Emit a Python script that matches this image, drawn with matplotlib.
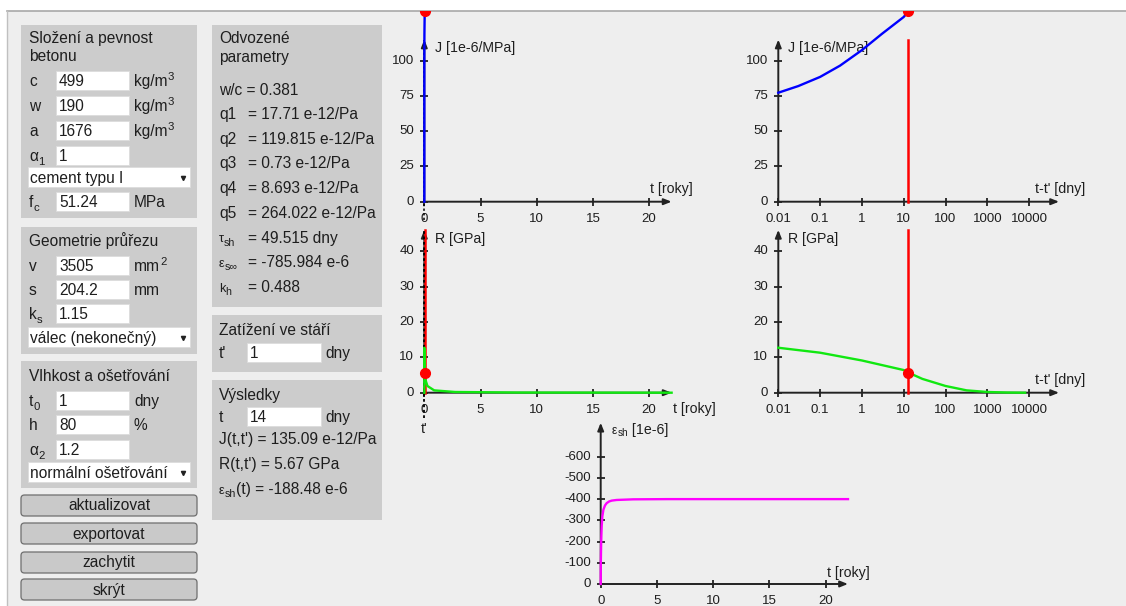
import matplotlib
matplotlib.use('Agg')
import matplotlib.pyplot as plt
from matplotlib.patches import Rectangle, FancyBboxPatch

plt.rcParams['font.family'] = ['Liberation Sans', 'DejaVu Sans']

W, H = 1126, 606
TXT = '#1e1e1e'
AXC = '#222222'
PAGE = '#eeeeee'
PANEL = '#cccccc'
FS = 11.2      # ui text
SUB = 8.2      # subscripts
TICK = 9.5
LAB = 10.2

# ---- values ----
t_load = 1          # t' [dny]
t_now = 14          # t [dny]
J_now = 135.09      # J(t,t') [1e-6/MPa]
R_now = 5.67        # R(t,t') [GPa]

# compliance J vs t-t' [dny]
J_dt = [0.01, 0.03, 0.1, 0.3, 1, 3, 10, 13, 20]
J_val = [77.3, 82.0, 88.5, 96.5, 107.5, 119.0, 131.0, 135.1, 142.0]

# relaxation R vs t-t' [dny]
R_dt = [0.01, 0.1, 1, 10, 13, 28, 100, 320, 1000, 3000, 8030]
R_val = [12.7, 11.3, 9.1, 6.4, 5.67, 3.9, 1.9, 0.66, 0.2, 0.05, 0.0]

# shrinkage vs t [roky]
eps_t = [0.00274, 0.006, 0.012, 0.022, 0.0384, 0.06, 0.09, 0.15, 0.24,
         0.38, 0.53, 0.75, 0.98, 1.42, 2.9, 6, 22]
eps_val = [0, -60, -100, -140, -188.5, -230, -275, -320, -350,
           -370, -381, -389, -393, -396, -399, -400, -400]

years_ticks = [0, 5, 10, 15, 20]
days_ticks = [0.01, 0.1, 1, 10, 100, 1000, 10000]
days_labels = ['0.01', '0.1', '1', '10', '100', '1000', '10000']
J_ticks = [0, 25, 50, 75, 100]
R_ticks = [0, 10, 20, 30, 40]
eps_ticks = [0, -100, -200, -300, -400, -500, -600]

# axis extents (arrow tips)
yr_end, day_end = 22, 52000
J_top, R_top, eps_top = 115, 46, -760

fig = plt.figure(figsize=(W / 100, H / 100), dpi=100)
fig.patch.set_facecolor('white')
ui = fig.add_axes([0, 0, 1, 1])
ui.set_xlim(0, W)
ui.set_ylim(H, 0)
ui.axis('off')
rend = fig.canvas.get_renderer()


def rich(x, y, parts, color=TXT):
    for s, size, dy in parts:
        t = ui.text(x, y + dy, s, fontsize=size, color=color, va='baseline', ha='left')
        x += t.get_window_extent(rend).width
    return x


def box(x, y, w, h, fc, ec='none', lw=0.8):
    ui.add_patch(Rectangle((x, y), w, h, facecolor=fc, edgecolor=ec, lw=lw))


# page
box(7, 11, W - 7, H - 11, PAGE)
ui.plot([7, W], [11, 11], color='#a8a8a8', lw=1.2)
ui.plot([7, 7], [11, H], color='#c0c0c0', lw=1.0)


def label(x, y, main, sub=None):
    parts = [(main, FS, 0)]
    if sub:
        parts.append((sub, SUB, 4))
    rich(x, y, parts)


def field(y, lab, value, unit=None, sup=None, x0=56, x1=129, ux=134, lx=29):
    box(x0, y, x1 - x0, 19, 'white', '#dcdcdc', 0.6)
    label(lx, y + 15, *lab)
    ui.text(x0 + 3, y + 15, value, fontsize=FS, color=TXT, va='baseline')
    if unit:
        parts = [(unit, FS, 0)]
        if sup:
            parts.append((sup, SUB, -6))
        rich(ux, y + 15, parts)


def select(y, text):
    box(28, y, 162, 20, 'white', '#dcdcdc', 0.6)
    ui.text(30, y + 16, text, fontsize=FS, color=TXT, va='baseline')
    ui.plot(183, y + 10.5, marker='v', ms=3, color='#222')


# panel 1
box(21, 25, 176, 193, PANEL)
ui.text(29, 43, 'Složení a pevnost', fontsize=FS, color=TXT, va='baseline')
ui.text(29, 61, 'betonu', fontsize=FS, color=TXT, va='baseline')
field(71, ('c',), '499', 'kg/m', '3')
field(96, ('w',), '190', 'kg/m', '3')
field(121, ('a',), '1676', 'kg/m', '3')
field(146, ('α', '1'), '1')
select(167, 'cement typu I')
field(192, ('f', 'c'), '51.24', 'MPa')

# panel 2
box(21, 227, 176, 127, PANEL)
ui.text(29, 246, 'Geometrie průřezu', fontsize=FS, color=TXT, va='baseline')
field(256, ('v',), '3505', 'mm', '2')
field(280, ('s',), '204.2', 'mm')
field(304, ('k', 's'), '1.15')
select(327, 'válec (nekonečný)')

# panel 3
box(21, 361, 176, 127, PANEL)
ui.text(29, 381, 'Vlhkost a ošetřování', fontsize=FS, color=TXT, va='baseline')
field(391, ('t', '0'), '1', 'dny')
field(415, ('h',), '80', '%')
field(440, ('α', '2'), '1.2')
select(462, 'normální ošetřování')

# buttons
for top, name in [(495, 'aktualizovat'), (523, 'exportovat'), (552, 'zachytit'), (579, 'skrýt')]:
    ui.add_patch(FancyBboxPatch((21, top), 176, 21, boxstyle='round,pad=0,rounding_size=3.5',
                                facecolor='#c9c9c9', edgecolor='#6e6e6e', lw=0.9))
    ui.text(109, top + 15.5, name, fontsize=FS, color=TXT, ha='center', va='baseline')

# derived parameters
box(212, 25, 170, 282, PANEL)
ui.text(219, 43, 'Odvozené', fontsize=FS, color=TXT, va='baseline')
ui.text(219, 62, 'parametry', fontsize=FS, color=TXT, va='baseline')
ui.text(219, 95, 'w/c = 0.381', fontsize=FS, color=TXT, va='baseline')
derived = [('q1', None, '= 17.71 e-12/Pa'), ('q2', None, '= 119.815 e-12/Pa'),
           ('q3', None, '= 0.73 e-12/Pa'), ('q4', None, '= 8.693 e-12/Pa'),
           ('q5', None, '= 264.022 e-12/Pa'), ('τ', 'sh', '= 49.515 dny'),
           ('ε', 's∞', '= -785.984 e-6'), ('k', 'h', '= 0.488')]
for i, (a, b, rest) in enumerate(derived):
    yb = 119 + i * 24.7
    if b is None:
        ui.text(219, yb, a, fontsize=FS, color=TXT, va='baseline')
    else:
        rich(219, yb, [(a, SUB + 1, 0), (b, SUB - 0.5, 3)])
    ui.text(248, yb, rest, fontsize=FS, color=TXT, va='baseline')

# load age
box(212, 315, 170, 57, PANEL)
ui.text(219, 335, 'Zatížení ve stáří', fontsize=FS, color=TXT, va='baseline')
field(343, ("t'",), str(t_load), 'dny', x0=247, x1=321, ux=325, lx=219)

# results
box(212, 380, 170, 140, PANEL)
ui.text(219, 400, 'Výsledky', fontsize=FS, color=TXT, va='baseline')
field(407, ('t',), str(t_now), 'dny', x0=247, x1=321, ux=325, lx=219)
ui.text(219, 444, "J(t,t') = %.2f e-12/Pa" % J_now, fontsize=FS, color=TXT, va='baseline')
ui.text(219, 469, "R(t,t') = %.2f GPa" % R_now, fontsize=FS, color=TXT, va='baseline')
rich(219, 494, [('ε', SUB + 1, 0), ('sh', SUB - 0.5, 3), ('(t) = -188.48 e-6', FS, 0)])


# ---- charts ----
def chart(x0, sx, y0, sy, bx, xlog=False, yflip=False):
    l, t, r, b = bx
    ax = fig.add_axes([l / W, 1 - b / H, (r - l) / W, (b - t) / H])
    ax.set_facecolor('none')
    ax.axis('off')
    if xlog:
        ax.set_xscale('log')
        fx = lambda px: 10 ** ((px - x0) / sx - 2)
    else:
        fx = lambda px: (px - x0) / sx
    if yflip:
        fy = lambda py: (py - y0) / sy
    else:
        fy = lambda py: (y0 - py) / sy
    ax.set_xlim(fx(l), fx(r))
    ax.set_ylim(fy(b), fy(t))
    return ax


def axes_lines(ax, xo, xe, ye, xt, xl, yt, yl):
    ap = dict(arrowstyle='-|>,head_length=0.45,head_width=0.18', color=AXC, lw=1.4,
              shrinkA=0, shrinkB=0)
    ax.annotate('', xy=(xe, 0), xytext=(xo, 0), arrowprops=ap, annotation_clip=False, zorder=2)
    ax.annotate('', xy=(xo, ye), xytext=(xo, 0), arrowprops=ap, annotation_clip=False, zorder=2)
    ax.plot(xt, [0] * len(xt), ls='none', marker='|', ms=6, mew=1.3, color=AXC, clip_on=False)
    ax.plot([xo] * len(yt), yt, ls='none', marker='_', ms=6, mew=1.3, color=AXC, clip_on=False)
    for v, s in zip(xt, xl):
        ax.annotate(s, (v, 0), xytext=(0, -17), textcoords='offset pixels', ha='center',
                    va='center', fontsize=TICK, color=TXT, annotation_clip=False)
    for v, s in zip(yt, yl):
        ax.annotate(s, (xo, v), xytext=(-10, 0), textcoords='offset pixels', ha='right',
                    va='center', fontsize=TICK, color=TXT, annotation_clip=False)


yr_lbl = [str(v) for v in years_ticks]
t_load_yr = t_load / 365
t_now_yr = t_now / 365
dt_now = t_now - t_load
J_yr = [t_load_yr] + [(t_load + d) / 365 for d in J_dt]
J_yr_val = [0] + J_val
R_yr = [t_load_yr] + [(t_load + d) / 365 for d in R_dt]
R_yr_val = [0] + R_val

BLUE, GREEN, RED, MAG = '#0000ff', '#11e811', '#ff0000', '#ff00ff'
DASH = (0, (1.5, 1.5))

# J vs t [roky]
ax1 = chart(424.3, 11.24, 201.7, 1.41, (390, 11, 715, 240))
axes_lines(ax1, 0, yr_end, J_top, years_ticks, yr_lbl, J_ticks, [str(v) for v in J_ticks])
ax1.plot([t_load_yr] * 2, [-13, J_top], color='k', lw=1.1, ls=DASH, zorder=3)
ax1.plot(J_yr, J_yr_val, color=BLUE, lw=1.7, zorder=4)
ax1.plot(t_now_yr, J_now, 'o', color=RED, ms=7, zorder=5)

# J vs t-t' [dny]
ax2 = chart(778.3, 41.8, 201.7, 1.41, (740, 11, 1110, 240), xlog=True)
axes_lines(ax2, 0.01, day_end, J_top, days_ticks, days_labels, J_ticks, [str(v) for v in J_ticks])
ax2.plot([dt_now] * 2, [0, J_top], color=RED, lw=1.8, zorder=3)
ax2.plot(J_dt, J_val, color=BLUE, lw=1.7, zorder=4)
ax2.plot(dt_now, J_now, 'o', color=RED, ms=7, zorder=5)

# R vs t [roky]
ax3 = chart(424.3, 11.24, 392.7, 3.54, (390, 11, 715, 440))
axes_lines(ax3, 0, yr_end, R_top, years_ticks, yr_lbl, R_ticks, [str(v) for v in R_ticks])
ax3.plot([t_now_yr] * 2, [0, R_top], color=RED, lw=1.8, zorder=3)
ax3.plot([t_load_yr] * 2, [-7.2, R_top], color='k', lw=1.3, ls=DASH, zorder=3.5)
ax3.plot(R_yr, R_yr_val, color=GREEN, lw=1.7, zorder=4)
ax3.plot(t_now_yr, R_now, 'o', color=RED, ms=7, zorder=5)

# R vs t-t' [dny]
ax4 = chart(778.3, 41.8, 392.7, 3.54, (740, 11, 1110, 440), xlog=True)
axes_lines(ax4, 0.01, day_end, R_top, days_ticks, days_labels, R_ticks, [str(v) for v in R_ticks])
ax4.plot([dt_now] * 2, [0, R_top], color=RED, lw=1.8, zorder=3)
ax4.plot(R_dt, R_val, color=GREEN, lw=1.7, zorder=4)
ax4.plot(dt_now, R_now, 'o', color=RED, ms=7, zorder=5)

# shrinkage
ax5 = chart(600.7, 11.24, 584, 0.2122, (560, 400, 900, 606), yflip=True)
axes_lines(ax5, 0, yr_end, eps_top, years_ticks, yr_lbl, eps_ticks, [str(v) for v in eps_ticks])
ax5.plot(eps_t, eps_val, color=MAG, lw=1.7, zorder=4)

# axis titles
for x, y, s in [(435, 52, 'J [1e-6/MPa]'), (788, 52, 'J [1e-6/MPa]'),
                (650, 193, 't [roky]'), (1035, 193, "t-t' [dny]"),
                (435, 243, 'R [GPa]'), (788, 243, 'R [GPa]'),
                (673, 413, 't [roky]'), (1035, 384, "t-t' [dny]"),
                (827, 577, 't [roky]')]:
    ui.text(x, y, s, fontsize=LAB, color=TXT, va='baseline', zorder=5)
ui.text(424.3, 433, "t'", fontsize=LAB, color=TXT, ha='center', va='baseline')
rich(612, 434, [('ε', SUB + 0.5, 0), ('sh', SUB - 1, 2), (' [1e-6]', LAB, 0)])

fig.savefig('out.png', dpi=100, facecolor='white')
